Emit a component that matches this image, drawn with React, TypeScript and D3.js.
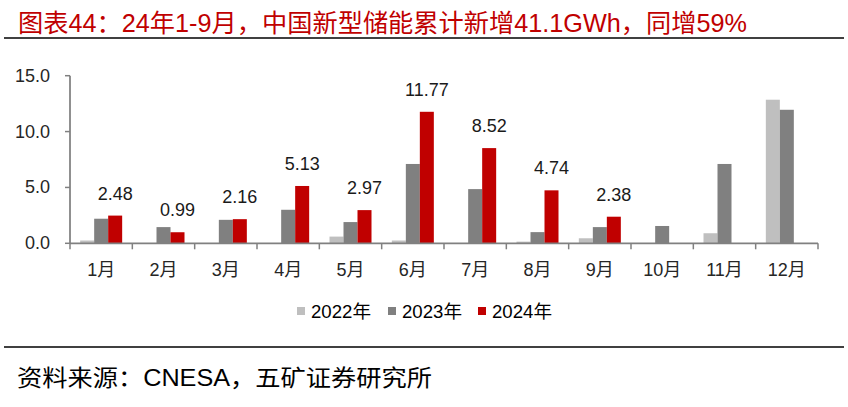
import React from "react";
import * as d3 from "d3";

const title = "图表44：24年1-9月，中国新型储能累计新增41.1GWh，同增59%";
const source = "资料来源：CNESA，五矿证券研究所";
const months = ["1月", "2月", "3月", "4月", "5月", "6月", "7月", "8月", "9月", "10月", "11月", "12月"];
const seriesNames = ["2022年", "2023年", "2024年"];
const seriesColors = ["#BFBFBF", "#808080", "#C00000"];
const values2022 = [0.25, 0, 0, 0, 0.6, 0.25, 0, 0.15, 0.45, 0, 0.9, 12.85];
const values2023 = [2.2, 1.45, 2.1, 3.0, 1.9, 7.1, 4.85, 1.0, 1.45, 1.55, 7.1, 11.95];
const values2024 = [2.48, 0.99, 2.16, 5.13, 2.97, 11.77, 8.52, 4.74, 2.38];
const yTicks = [0, 5, 10, 15];

const W = 848;
const H = 407;
const plotLeft = 70;
const plotRight = 818;
const plotTop = 75.7;
const plotBottom = 243.3;
const groupWidth = 42;

const numFont = "'Liberation Sans', Arial, 'Noto Sans CJK SC', sans-serif";
const cjkFont = "'Liberation Sans', Arial, 'Noto Sans CJK SC', sans-serif";

export default function App() {
  const x0 = d3.scaleBand<string>().domain(months).range([plotLeft, plotRight]).padding(0);
  const step = x0.step();
  const x1 = d3.scaleBand<string>().domain(seriesNames).range([0, groupWidth]).padding(0);
  const y = d3.scaleLinear().domain([0, 15]).range([plotBottom, plotTop]);
  const allSeries = [values2022, values2023, values2024];

  const boundaries = d3.range(months.length + 1).map((i) => plotLeft + i * step);

  const legendX = [297, 388, 478];

  return (
    <svg
      width={W}
      height={H}
      style={{ position: "absolute", left: 0, top: 0, background: "#fff" }}
    >
      <text x={18} y={32} fill="#C00000" fontSize={25} fontFamily={cjkFont} textLength={729} lengthAdjust="spacingAndGlyphs">
        {title}
      </text>
      <line x1={4} x2={844} y1={38} y2={38} stroke="#000" strokeWidth={1.5} />

      {/* bars */}
      {allSeries.map((vals, si) =>
        vals.map((v, i) =>
          v > 0 ? (
            <rect
              key={`b${si}-${i}`}
              x={(x0(months[i]) as number) + (step - groupWidth) / 2 + (x1(seriesNames[si]) as number)}
              y={y(v)}
              width={x1.bandwidth()}
              height={plotBottom - y(v)}
              fill={seriesColors[si]}
            />
          ) : null
        )
      )}

      {/* value labels for 2024 */}
      {values2024.map((v, i) => (
        <text
          key={`l${i}`}
          x={(x0(months[i]) as number) + (step - groupWidth) / 2 + (x1(seriesNames[2]) as number) + x1.bandwidth() / 2}
          y={y(v) - 16}
          textAnchor="middle"
          fontSize={18}
          fontFamily={numFont}
          fill="#1a1a1a"
        >
          {v.toFixed(2)}
        </text>
      ))}

      {/* axes */}
      <line x1={plotLeft} x2={plotLeft} y1={plotTop} y2={plotBottom} stroke="#808080" strokeWidth={1.75} />
      <line x1={plotLeft} x2={plotRight} y1={plotBottom} y2={plotBottom} stroke="#808080" strokeWidth={1.75} />
      {yTicks.map((t) => (
        <g key={`yt${t}`}>
          <line x1={plotLeft - 5} x2={plotLeft} y1={y(t)} y2={y(t)} stroke="#808080" strokeWidth={1.5} />
          <text x={50} y={y(t) + 6} textAnchor="end" fontSize={18} fontFamily={numFont} fill="#262626">
            {t.toFixed(1)}
          </text>
        </g>
      ))}
      {boundaries.map((bx, i) => (
        <line key={`xt${i}`} x1={bx} x2={bx} y1={plotBottom} y2={plotBottom + 6} stroke="#808080" strokeWidth={1.5} />
      ))}
      {months.map((m) => (
        <text
          key={`m${m}`}
          x={(x0(m) as number) + step / 2}
          y={276}
          textAnchor="middle"
          fontSize={18}
          fontFamily={cjkFont}
          fill="#262626"
        >
          {m}
        </text>
      ))}

      {/* legend */}
      {seriesNames.map((s, i) => (
        <g key={`lg${s}`}>
          <rect x={legendX[i]} y={307} width={8} height={8} fill={seriesColors[i]} />
          <text x={legendX[i] + 14} y={318} fontSize={18} fontFamily={cjkFont} fill="#000" textLength={60} lengthAdjust="spacingAndGlyphs">
            {s}
          </text>
        </g>
      ))}

      <line x1={4} x2={844} y1={347} y2={347} stroke="#000" strokeWidth={1.5} />
      <text x={17} y={386} fontSize={23} fontFamily={cjkFont} fill="#000" textLength={415} lengthAdjust="spacingAndGlyphs">
        {source}
      </text>
    </svg>
  );
}
